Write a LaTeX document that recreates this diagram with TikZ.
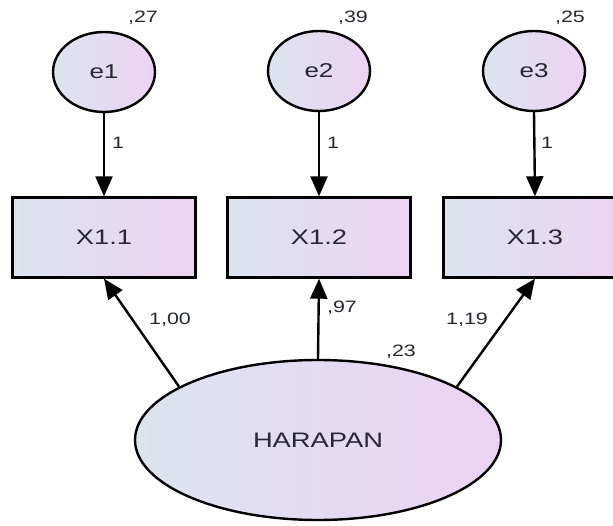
\documentclass[tikz,border=0pt]{standalone}
\usepackage{fontspec}
\usepackage{graphicx}
\setmainfont{Liberation Sans}
\usetikzlibrary{shapes.geometric,arrows.meta}
\definecolor{fillL}{RGB}{220,228,237}
\definecolor{fillR}{RGB}{236,211,243}
\definecolor{txt}{RGB}{40,40,50}
\newcommand\wide[1]{\scalebox{1.3}[1]{#1}}
\tikzset{
  fillgrad/.style={left color=fillL,right color=fillR,draw=black,line width=2.4pt},
  errnode/.style={fillgrad,ellipse,minimum width=102pt,minimum height=80pt,inner sep=0pt,font=\fontsize{20}{22}\selectfont,text=txt},
  obsnode/.style={fillgrad,rectangle,minimum width=183pt,minimum height=80pt,inner sep=0pt,font=\fontsize{21}{23}\selectfont,text=txt},
  latnode/.style={fillgrad,ellipse,minimum width=366pt,minimum height=160pt,inner sep=0pt,font=\fontsize{21}{23}\selectfont,text=txt},
  lbl/.style={inner sep=0pt,font=\fontsize{16.5}{18}\selectfont,text=txt},
  arr/.style={line width=2.4pt,-{Triangle[length=20pt,width=17pt]}}
}
\begin{document}
\begin{tikzpicture}[x=1pt,y=-1pt]
\useasboundingbox (0,0) rectangle (613,526);
\begin{scope}
\clip (0,0) rectangle (613,526);
\node[errnode] (e1) at (104,72) {\wide{e1}};
\node[errnode] (e2) at (319,71) {\wide{e2}};
\node[errnode] (e3) at (534,71) {\wide{e3}};
\node[obsnode] (x1) at (104,237.5) {\wide{X1.1}};
\node[obsnode] (x2) at (319,237.5) {\wide{X1.2}};
\node[obsnode] (x3) at (535,237.5) {\wide{X1.3}};
\node[latnode] (h) at (318,440) {\wide{HARAPAN}};
\end{scope}
\draw[arr] (e1.south) -- (x1.north);
\draw[arr] (e2.south) -- (x2.north);
\draw[arr] (e3.south) -- (x3.north);
\draw[arr] (h.159) -- (x1.south);
\draw[arr] (h.north) -- (x2.south);
\draw[arr] (h.21) -- (x3.south);
\node[lbl] (v1) at (143,18) {\wide{,27}};
\node[lbl] (v2) at (353,18) {\wide{,39}};
\node[lbl] (v3) at (570,18) {\wide{,25}};
\node[lbl] (o1) at (118,143) {\wide{1}};
\node[lbl] (o2) at (333,143) {\wide{1}};
\node[lbl] (o3) at (547,143) {\wide{1}};
\node[lbl] (l1) at (170,320) {\wide{1,00}};
\node[lbl] (l2) at (342,308) {\wide{,97}};
\node[lbl] (l3) at (467,320) {\wide{1,19}};
\node[lbl] (vh) at (401,352) {\wide{,23}};
\end{tikzpicture}
\end{document}
